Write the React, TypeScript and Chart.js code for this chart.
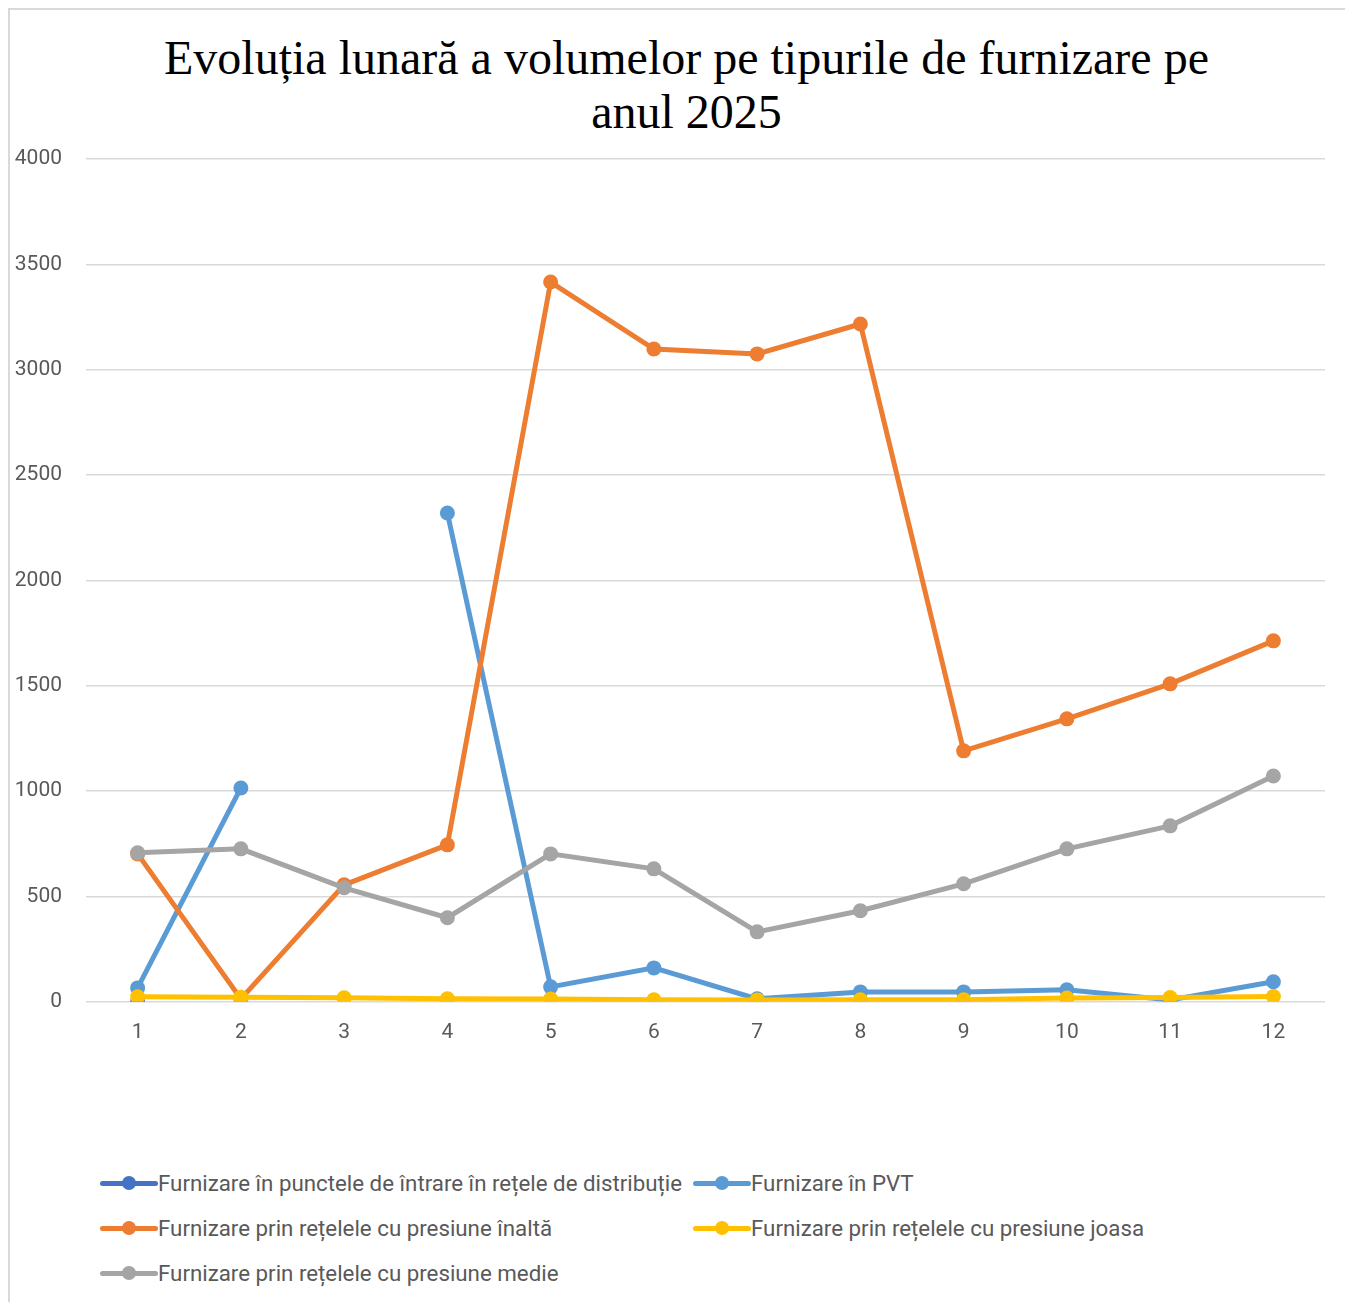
import React, { useEffect, useRef } from "react";
import { Chart, registerables } from "chart.js";

Chart.register(...registerables);

const titleLines = ["Evoluția lunară a volumelor pe tipurile de furnizare pe", "anul 2025"];
const months = ["1", "2", "3", "4", "5", "6", "7", "8", "9", "10", "11", "12"];

const seriesNames = [
  "Furnizare în punctele de întrare în rețele de distribuție",
  "Furnizare în PVT",
  "Furnizare prin rețelele cu presiune înaltă",
  "Furnizare prin rețelele cu presiune joasa",
  "Furnizare prin rețelele cu presiune medie",
];
const seriesColors = ["#4472C4", "#5B9BD5", "#ED7D31", "#FFC000", "#A5A5A5"];

const punctele: (number | null)[] = [0, null, null, null, null, null, null, null, null, null, null, null];
const pvt: (number | null)[] = [66, 1015, null, 2320, 71, 161, 14, 47, 47, 57, 9, 95];
const inalta: (number | null)[] = [702, 14, 555, 745, 3416, 3098, 3075, 3217, 1191, 1343, 1509, 1713];
const joasa: (number | null)[] = [24, 22, 19, 14, 13, 10, 9, 10, 10, 18, 20, 25];
const medie: (number | null)[] = [707, 726, 541, 399, 702, 631, 332, 432, 560, 726, 835, 1072];

const seriesData = [punctele, pvt, inalta, joasa, medie];

const yMax = 4000;
const yStep = 500;

const tickFont = "'Roboto', 'Liberation Sans', sans-serif";

export default function App() {
  const canvasRef = useRef<HTMLCanvasElement | null>(null);

  useEffect(() => {
    if (!canvasRef.current) return;
    const chart = new Chart(canvasRef.current, {
      type: "line",
      data: {
        labels: months,
        datasets: seriesData.map((d, i) => ({
          label: seriesNames[i],
          data: d,
          borderColor: seriesColors[i],
          backgroundColor: seriesColors[i],
          pointBackgroundColor: seriesColors[i],
          pointBorderColor: seriesColors[i],
          borderWidth: 5,
          pointRadius: 7.5,
          pointBorderWidth: 0,
          tension: 0,
          spanGaps: false,
          order: seriesData.length - 1 - i,
        })),
      },
      options: {
        responsive: false,
        animation: false,
        layout: { padding: { left: 0, right: 18, top: 149, bottom: 47 } },
        plugins: {
          legend: { display: false },
          tooltip: { enabled: false },
          title: { display: false },
        },
        scales: {
          x: {
            type: "category",
            offset: true,
            grid: { display: false, drawTicks: false },
            border: { display: false },
            ticks: { color: "#595959", font: { family: tickFont, size: 21 }, padding: 18 },
          },
          y: {
            min: 0,
            max: yMax,
            grid: { color: "#d9d9d9", lineWidth: 1.5, drawTicks: false },
            border: { display: false },
            ticks: {
              stepSize: yStep,
              color: "#595959",
              font: { family: tickFont, size: 21 },
              padding: 24,
              callback: (v: any) => String(v),
            },
            afterFit: (scale: any) => {
              scale.width = 76;
            },
          },
        },
      },
    });
    return () => chart.destroy();
  }, []);

  const legendRows = [
    [0, 1],
    [2, 3],
    [4],
  ];

  return (
    <div
      style={{
        position: "relative",
        width: 1345,
        height: 1294,
        borderTop: "2px solid #d9d9d9",
        borderLeft: "2px solid #d9d9d9",
        boxSizing: "border-box",
        overflow: "hidden",
        background: "#ffffff",
      }}
    >
      <div
        style={{
          position: "absolute",
          left: 76.5,
          top: 21,
          width: 1200,
          textAlign: "center",
          fontFamily: "'Liberation Serif', 'Times New Roman', serif",
          fontSize: 48,
          lineHeight: "54px",
          color: "#000000",
          whiteSpace: "nowrap",
        }}
      >
        {titleLines.map((t, i) => (
          <div key={i}>{t}</div>
        ))}
      </div>
      <canvas ref={canvasRef} width={1333} height={1100} style={{ position: "absolute", left: 0, top: 0 }} />
      {legendRows.map((row, r) =>
        row.map((idx, c) => (
          <div
            key={idx}
            style={{
              position: "absolute",
              left: c === 0 ? 90 : 683,
              top: 1163 + r * 45,
              height: 20,
              display: "flex",
              alignItems: "center",
              whiteSpace: "nowrap",
              fontFamily: tickFont,
              fontSize: 22.3,
              color: "#595959",
            }}
          >
            <span style={{ position: "relative", width: 58, height: 20, display: "inline-block", flex: "none" }}>
              <span
                style={{
                  position: "absolute",
                  left: 0,
                  top: 8,
                  width: 58,
                  height: 5,
                  borderRadius: 2.5,
                  background: seriesColors[idx],
                }}
              />
              <span
                style={{
                  position: "absolute",
                  left: 22,
                  top: 3,
                  width: 14,
                  height: 14,
                  borderRadius: "50%",
                  background: seriesColors[idx],
                }}
              />
            </span>
            <span>{seriesNames[idx]}</span>
          </div>
        ))
      )}
    </div>
  );
}
